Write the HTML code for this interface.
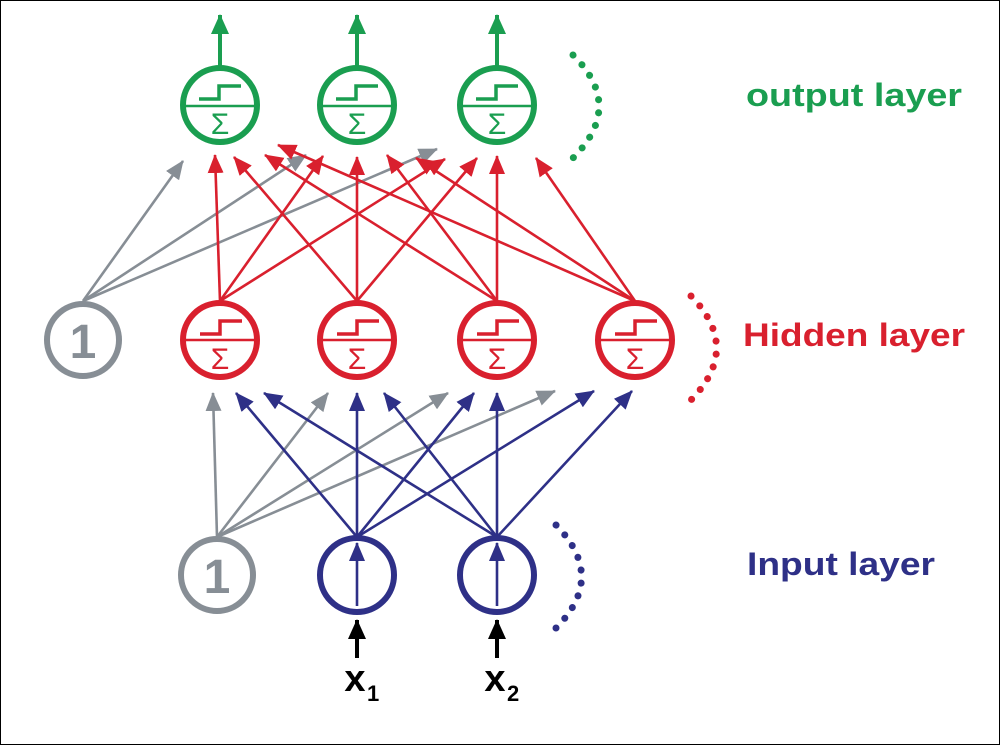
<!DOCTYPE html>
<html><head><meta charset="utf-8"><style>
html,body{margin:0;padding:0;background:#fff}
svg{display:block}
text{font-family:"Liberation Sans",sans-serif;font-weight:bold}
</style></head><body>
<svg width="1000" height="745" viewBox="0 0 1000 745" xmlns="http://www.w3.org/2000/svg">
<defs>
<marker id="ag" markerUnits="userSpaceOnUse" markerWidth="19" markerHeight="16" refX="18" refY="8" orient="auto"><path d="M0,0L19,8L0,16Z" fill="#878e95"/></marker>
<marker id="ar" markerUnits="userSpaceOnUse" markerWidth="19" markerHeight="16" refX="18" refY="8" orient="auto"><path d="M0,0L19,8L0,16Z" fill="#d9202e"/></marker>
<marker id="ab" markerUnits="userSpaceOnUse" markerWidth="19" markerHeight="16" refX="18" refY="8" orient="auto"><path d="M0,0L19,8L0,16Z" fill="#2e3087"/></marker>
<marker id="agr" markerUnits="userSpaceOnUse" markerWidth="20" markerHeight="18" refX="19" refY="9" orient="auto"><path d="M0,0L20,9L0,18Z" fill="#1a9e50"/></marker>
<marker id="ak" markerUnits="userSpaceOnUse" markerWidth="20" markerHeight="18" refX="19" refY="9" orient="auto"><path d="M0,0L20,9L0,18Z" fill="#000"/></marker>
</defs>
<rect x="0.5" y="0.5" width="999" height="744" fill="none" stroke="#000" stroke-width="1"/>

<g stroke-width="2.6" fill="none">
<g stroke="#878e95" marker-end="url(#ag)">
<line x1="217" y1="537" x2="213" y2="393"/>
<line x1="217" y1="537" x2="328" y2="393"/>
<line x1="217" y1="537" x2="448" y2="393"/>
<line x1="217" y1="537" x2="555" y2="391"/>
</g>
<g stroke="#2e3087" marker-end="url(#ab)">
<line x1="357" y1="537" x2="236" y2="393"/>
<line x1="357" y1="537" x2="357" y2="393"/>
<line x1="357" y1="537" x2="474" y2="393"/>
<line x1="357" y1="537" x2="594" y2="391"/>
<line x1="497" y1="537" x2="264" y2="393"/>
<line x1="497" y1="537" x2="384" y2="393"/>
<line x1="497" y1="537" x2="497" y2="393"/>
<line x1="497" y1="537" x2="632" y2="391"/>
</g>
<g stroke="#878e95" marker-end="url(#ag)">
<line x1="83" y1="301" x2="183" y2="161"/>
<line x1="83" y1="301" x2="306" y2="155"/>
<line x1="83" y1="301" x2="437" y2="149"/>
</g>
<g stroke="#d9202e" marker-end="url(#ar)">
<line x1="220" y1="301" x2="215" y2="155"/>
<line x1="220" y1="301" x2="323" y2="156"/>
<line x1="220" y1="301" x2="445" y2="159"/>
<line x1="357" y1="301" x2="234" y2="157"/>
<line x1="357" y1="301" x2="357" y2="157"/>
<line x1="357" y1="301" x2="477" y2="158"/>
<line x1="497" y1="301" x2="265" y2="155"/>
<line x1="497" y1="301" x2="387" y2="155"/>
<line x1="497" y1="301" x2="497" y2="156"/>
<line x1="635" y1="301" x2="278" y2="145"/>
<line x1="635" y1="301" x2="416" y2="158"/>
<line x1="635" y1="301" x2="536" y2="158"/>
</g>
</g>

<g stroke="#1a9e50" fill="none">
<g id="on">
<line x1="220" y1="67" x2="220" y2="15" stroke-width="4" marker-end="url(#agr)"/>
<circle cx="220" cy="105" r="37" stroke-width="6" fill="#fff"/>
<line x1="184" y1="106" x2="256" y2="106" stroke-width="2.5"/>
<path d="M199,99 H219 V86 H241" stroke-width="3.5"/>
</g>
<use href="#on" x="137"/>
<use href="#on" x="277"/>
</g>
<g fill="#1a9e50" font-size="30" text-anchor="middle">
<text x="220" y="134" style="font-weight:normal">Σ</text>
<text x="357" y="134" style="font-weight:normal">Σ</text>
<text x="497" y="134" style="font-weight:normal">Σ</text>
</g>

<circle cx="83" cy="340" r="36" stroke="#878e95" stroke-width="6" fill="#fff"/>
<text x="83" y="358" fill="#878e95" font-size="48" text-anchor="middle">1</text>
<g stroke="#d9202e" fill="none">
<g id="hn">
<circle cx="220" cy="340" r="37" stroke-width="6" fill="#fff"/>
<line x1="184" y1="340" x2="256" y2="340" stroke-width="2.5"/>
<path d="M200,334 H220 V321 H242" stroke-width="3.5"/>
</g>
<use href="#hn" x="137"/>
<use href="#hn" x="277"/>
<use href="#hn" x="415"/>
</g>
<g fill="#d9202e" font-size="30" text-anchor="middle">
<text x="220" y="369" style="font-weight:normal">Σ</text>
<text x="357" y="369" style="font-weight:normal">Σ</text>
<text x="497" y="369" style="font-weight:normal">Σ</text>
<text x="635" y="369" style="font-weight:normal">Σ</text>
</g>

<circle cx="217" cy="575" r="36" stroke="#878e95" stroke-width="6" fill="#fff"/>
<text x="217" y="593" fill="#878e95" font-size="48" text-anchor="middle">1</text>
<g stroke="#2e3087" fill="none">
<circle cx="357" cy="575" r="37" stroke-width="6" fill="#fff"/>
<circle cx="497" cy="575" r="37" stroke-width="6" fill="#fff"/>
<line x1="357" y1="606" x2="357" y2="543" stroke-width="2.6" marker-end="url(#ab)"/>
<line x1="497" y1="606" x2="497" y2="543" stroke-width="2.6" marker-end="url(#ab)"/>
</g>

<g stroke="#000" stroke-width="4">
<line x1="357" y1="658" x2="357" y2="620" marker-end="url(#ak)"/>
<line x1="497" y1="658" x2="497" y2="620" marker-end="url(#ak)"/>
</g>
<text x="355" y="691" font-size="38" text-anchor="middle">x</text>
<text x="367" y="701" font-size="22">1</text>
<text x="495" y="691" font-size="38" text-anchor="middle">x</text>
<text x="507" y="701" font-size="22">2</text>

<g fill="none" stroke-width="7" stroke-linecap="round" stroke-dasharray="0.1 13">
<path d="M573,55 Q625,106 573,158" stroke="#1a9e50"/>
<path d="M691,296 Q742,348 691,400" stroke="#d9202e"/>
<path d="M556,525 Q607,577 556,628" stroke="#2e3087"/>
</g>

<text x="746" y="106" fill="#1a9e50" font-size="32" textLength="216" lengthAdjust="spacingAndGlyphs">output layer</text>
<text x="743" y="346" fill="#d9202e" font-size="32" textLength="222" lengthAdjust="spacingAndGlyphs">Hidden layer</text>
<text x="747" y="575" fill="#2e3087" font-size="32" textLength="188" lengthAdjust="spacingAndGlyphs">Input layer</text>
</svg>
</body></html>
